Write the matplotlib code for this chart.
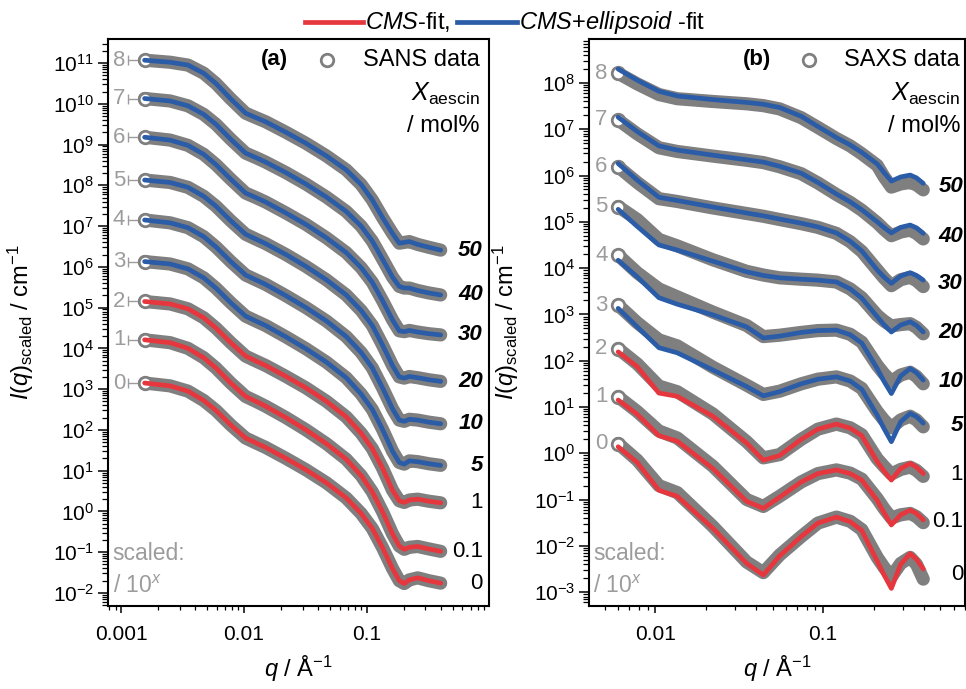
import numpy as np
import matplotlib
matplotlib.use("Agg")
import matplotlib.pyplot as plt
import matplotlib.transforms as mtransforms
from matplotlib.lines import Line2D
from matplotlib.ticker import LogLocator, NullFormatter, FixedLocator, FixedFormatter

plt.rcParams['font.family'] = ['Liberation Sans', 'DejaVu Sans']
plt.rcParams['mathtext.fontset'] = 'custom'
plt.rcParams['mathtext.rm'] = 'Liberation Sans'
plt.rcParams['mathtext.it'] = 'Liberation Sans:italic'
plt.rcParams['mathtext.bf'] = 'Liberation Sans:bold'

# -------------------- DATA (log10 of scaled I(q)) --------------------
X_AESCIN = ['0', '0.1', '1', '5', '10', '20', '30', '40', '50']
SCALE_EXP = ['0', '1', '2', '3', '4', '5', '6', '7', '8']

SANS_Q = [0.00155, 0.0025, 0.0035, 0.0047, 0.0059, 0.0078, 0.0103, 0.0125, 0.015,
          0.022, 0.032, 0.047, 0.068, 0.09, 0.111, 0.135, 0.162, 0.184, 0.202,
          0.222, 0.26, 0.32, 0.40]
SANS_LOGI = [
    [3.15, 3.08, 2.95, 2.72, 2.48, 2.12, 1.80, 1.68, 1.57, 1.30, 1.02, 0.70, 0.33, -0.05, -0.42, -0.90, -1.40, -1.70, -1.77, -1.68, -1.63, -1.70, -1.76],
    [4.21, 4.14, 4.00, 3.77, 3.52, 3.15, 2.82, 2.70, 2.58, 2.30, 2.00, 1.66, 1.28, 0.88, 0.48, -0.02, -0.55, -0.85, -0.93, -0.88, -0.86, -0.92, -0.98],
    [5.15, 5.09, 4.97, 4.75, 4.50, 4.14, 3.81, 3.69, 3.58, 3.31, 3.03, 2.70, 2.32, 1.92, 1.54, 1.05, 0.52, 0.26, 0.22, 0.28, 0.30, 0.25, 0.21],
    [6.13, 6.07, 5.95, 5.73, 5.48, 5.12, 4.79, 4.67, 4.56, 4.28, 3.99, 3.66, 3.28, 2.88, 2.50, 2.00, 1.48, 1.20, 1.16, 1.24, 1.22, 1.17, 1.13],
    [7.15, 7.08, 6.96, 6.74, 6.49, 6.13, 5.80, 5.68, 5.57, 5.29, 5.00, 4.67, 4.29, 3.90, 3.52, 3.02, 2.52, 2.24, 2.21, 2.26, 2.24, 2.19, 2.15],
    [8.13, 8.07, 7.95, 7.73, 7.49, 7.13, 6.80, 6.68, 6.57, 6.30, 6.01, 5.68, 5.31, 4.93, 4.56, 4.07, 3.58, 3.30, 3.27, 3.31, 3.28, 3.23, 3.19],
    [9.18, 9.11, 8.98, 8.76, 8.51, 8.15, 7.81, 7.70, 7.59, 7.32, 7.04, 6.71, 6.35, 5.98, 5.62, 5.16, 4.70, 4.43, 4.41, 4.44, 4.40, 4.36, 4.33],
    [10.13, 10.07, 9.95, 9.74, 9.50, 9.13, 8.79, 8.68, 8.57, 8.31, 8.03, 7.71, 7.36, 7.00, 6.63, 6.18, 5.75, 5.52, 5.48, 5.48, 5.42, 5.36, 5.31],
    [11.07, 11.02, 10.95, 10.75, 10.50, 10.12, 9.77, 9.66, 9.56, 9.30, 9.03, 8.72, 8.38, 8.02, 7.64, 7.20, 6.82, 6.58, 6.60, 6.62, 6.55, 6.48, 6.41],
]

SAXS_Q = [0.0060, 0.0078, 0.0105, 0.0135, 0.022, 0.035, 0.044, 0.055, 0.074,
          0.093, 0.12, 0.145, 0.17, 0.21, 0.23, 0.255, 0.29, 0.33, 0.36, 0.395]
SAXS_DATA_LOGI = [
    [0.21, -0.15, -0.70, -0.85, -1.58, -2.35, -2.58, -2.20, -1.80, -1.51, -1.38, -1.47, -1.65, -2.25, -2.46, -2.67, -2.38, -2.25, -2.40, -2.72],
    [1.22, 0.90, 0.48, 0.33, -0.28, -1.00, -1.15, -0.93, -0.62, -0.44, -0.36, -0.43, -0.56, -0.98, -1.19, -1.40, -1.33, -1.30, -1.37, -1.50],
    [2.26, 1.93, 1.45, 1.33, 0.85, 0.25, -0.10, -0.03, 0.30, 0.52, 0.63, 0.55, 0.40, -0.12, -0.28, -0.45, -0.35, -0.30, -0.37, -0.50],
    [3.20, 2.82, 2.45, 2.32, 1.86, 1.47, 1.27, 1.34, 1.50, 1.60, 1.65, 1.56, 1.40, 0.90, 0.72, 0.55, 0.72, 0.80, 0.72, 0.57],
    [4.28, 3.90, 3.55, 3.38, 3.05, 2.76, 2.52, 2.55, 2.61, 2.65, 2.66, 2.57, 2.40, 1.90, 1.72, 1.55, 1.69, 1.75, 1.66, 1.50],
    [5.33, 5.05, 4.62, 4.48, 4.18, 3.93, 3.85, 3.79, 3.76, 3.74, 3.70, 3.55, 3.36, 2.98, 2.86, 2.75, 2.78, 2.80, 2.72, 2.58],
    [6.19, 5.85, 5.50, 5.44, 5.30, 5.18, 5.12, 5.05, 4.96, 4.88, 4.75, 4.57, 4.36, 3.96, 3.79, 3.62, 3.75, 3.80, 3.73, 3.60],
    [7.20, 6.90, 6.60, 6.52, 6.42, 6.33, 6.28, 6.19, 6.04, 5.84, 5.59, 5.42, 5.25, 4.98, 4.84, 4.70, 4.78, 4.82, 4.75, 4.63],
    [8.21, 7.98, 7.75, 7.66, 7.60, 7.55, 7.51, 7.44, 7.25, 7.04, 6.80, 6.64, 6.47, 6.22, 5.98, 5.75, 5.82, 5.85, 5.80, 5.69],
]
SAXS_FIT_LOGI = [
    [0.14, -0.20, -0.80, -0.93, -1.62, -2.38, -2.63, -2.22, -1.80, -1.51, -1.38, -1.48, -1.67, -2.33, -2.62, -2.92, -2.40, -2.17, -2.29, -2.50],
    [1.15, 0.84, 0.38, 0.26, -0.33, -1.04, -1.19, -0.95, -0.62, -0.44, -0.36, -0.44, -0.58, -1.02, -1.28, -1.55, -1.33, -1.23, -1.30, -1.44],
    [2.19, 1.87, 1.30, 1.23, 0.80, 0.22, -0.15, -0.05, 0.30, 0.52, 0.63, 0.54, 0.38, -0.18, -0.38, -0.58, -0.33, -0.22, -0.30, -0.44],
    [3.13, 2.73, 2.28, 2.17, 1.80, 1.44, 1.24, 1.33, 1.50, 1.60, 1.65, 1.56, 1.38, 0.82, 0.54, 0.25, 0.68, 0.86, 0.79, 0.65],
    [4.17, 3.81, 3.36, 3.22, 2.99, 2.73, 2.49, 2.53, 2.61, 2.65, 2.66, 2.56, 2.38, 1.83, 1.56, 1.29, 1.67, 1.83, 1.74, 1.58],
    [5.27, 4.90, 4.50, 4.39, 4.15, 3.92, 3.84, 3.79, 3.76, 3.74, 3.70, 3.55, 3.35, 2.95, 2.78, 2.62, 2.77, 2.84, 2.76, 2.62],
    [6.26, 5.90, 5.53, 5.46, 5.32, 5.19, 5.13, 5.06, 4.97, 4.89, 4.76, 4.58, 4.37, 3.96, 3.81, 3.67, 3.83, 3.90, 3.84, 3.74],
    [7.26, 6.95, 6.64, 6.55, 6.44, 6.34, 6.29, 6.20, 6.05, 5.85, 5.60, 5.43, 5.26, 5.00, 4.88, 4.76, 4.88, 4.93, 4.87, 4.75],
    [8.30, 8.06, 7.82, 7.72, 7.64, 7.58, 7.54, 7.47, 7.28, 7.06, 6.82, 6.66, 6.50, 6.25, 6.07, 5.88, 5.97, 6.01, 5.95, 5.83],
]

# -------------------- STYLE --------------------
RED = '#e6373f'
BLUE = '#2a5ca8'
GREY = '#7f7f7f'
LIGHT = '#9c9c9c'
N_CMS = 3  # first three samples fitted with CMS only

fig = plt.figure(figsize=(9.66, 6.89), dpi=100)
ax_a = fig.add_axes([0.1118, 0.1205, 0.3944, 0.8229])
ax_b = fig.add_axes([0.6097, 0.1205, 0.3892, 0.8229])


def style_axes(ax, xlim, ylim, xticks, xlabels):
    ax.set_xscale('log')
    ax.set_yscale('log')
    ax.set_xlim(*xlim)
    ax.set_ylim(*ylim)
    ax.xaxis.set_major_locator(FixedLocator(xticks))
    ax.xaxis.set_major_formatter(FixedFormatter(xlabels))
    ax.xaxis.set_minor_locator(LogLocator(base=10, subs=np.arange(2, 10), numticks=100))
    ax.xaxis.set_minor_formatter(NullFormatter())
    ax.yaxis.set_major_locator(LogLocator(base=10, numticks=100))
    ax.yaxis.set_minor_locator(LogLocator(base=10, subs=np.arange(2, 10), numticks=200))
    ax.yaxis.set_minor_formatter(NullFormatter())
    ax.tick_params(which='both', direction='out', top=False, right=False,
                   labelsize=15, width=1.1)
    ax.tick_params(axis='y', which='major', length=7, pad=3)
    ax.tick_params(axis='y', which='minor', length=4, width=0.9)
    ax.tick_params(axis='x', which='major', length=5, pad=9)
    ax.tick_params(axis='x', which='minor', length=3, width=0.9)
    for s in ax.spines.values():
        s.set_linewidth(1.5)
    ax.set_xlabel(r'$q$ / Å$^{-1}$', fontsize=17)
    ax.xaxis.set_label_coords(0.5, -0.084)
    ax.set_ylabel(r'$I(q)_{\mathrm{scaled}}$ / cm$^{-1}$', fontsize=17)


def draw_curves(ax, q, data, fit, num_x, label_x, errbar):
    trans = mtransforms.blended_transform_factory(ax.transAxes, ax.transData)
    for i in range(len(data)):
        d = 10.0 ** np.array(data[i])
        f = 10.0 ** np.array(fit[i])
        col = RED if i < N_CMS else BLUE
        ax.plot(q, d, color=GREY, lw=9.5, solid_capstyle='round',
                solid_joinstyle='round', zorder=2)
        if errbar:
            ax.errorbar(q[0], d[0], xerr=[[q[0] * 0.27], [q[0] * 0.27]],
                        fmt='none', ecolor=LIGHT, elinewidth=1.0, capsize=3.5,
                        capthick=1.0, zorder=1)
        ax.plot(q[0], d[0], 'o', ms=9, mfc='white', mec=GREY, mew=2.0, zorder=3)
        ax.plot(q, f, color=col, lw=3.4, solid_capstyle='round',
                solid_joinstyle='round', zorder=4)
        ax.text(num_x, d[0], SCALE_EXP[i], color=LIGHT, fontsize=16,
                ha='right', va='center', zorder=5)
        end_y = 10.0 ** ((data[i][-1] + fit[i][-1]) / 2)
        if i >= 3:
            ax.text(label_x, end_y, X_AESCIN[i], transform=trans, fontsize=16,
                    fontweight='bold', fontstyle='italic', ha='right', va='center')
        else:
            ax.text(label_x, end_y, X_AESCIN[i], transform=trans, fontsize=16,
                    ha='right', va='center')


def panel_texts(ax, tag, kind, x_tag, x_mark, x_right):
    ax.text(x_tag, 0.963, tag, transform=ax.transAxes, fontsize=16,
            fontweight='bold', ha='center', va='center')
    ax.plot([x_mark], [0.963], 'o', ms=9, mfc='white', mec=GREY, mew=2.0,
            transform=ax.transAxes, clip_on=False)
    ax.text(x_right, 0.963, kind, transform=ax.transAxes, fontsize=17,
            ha='right', va='center')
    ax.text(x_right, 0.903, r'$X_{\mathrm{aescin}}$', transform=ax.transAxes,
            fontsize=18, ha='right', va='center')
    ax.text(x_right, 0.846, '/ mol%', transform=ax.transAxes, fontsize=17,
            ha='right', va='center')
    ax.text(0.012, 0.093, 'scaled:', transform=ax.transAxes, fontsize=16.5,
            color=LIGHT, ha='left', va='center')
    ax.text(0.012, 0.034, r'/ 10$^{x}$', transform=ax.transAxes, fontsize=16.5,
            color=LIGHT, ha='left', va='center')


# -------------------- PANEL (a) SANS --------------------
style_axes(ax_a, (0.00078, 0.99), (10 ** -2.32, 10 ** 11.59),
           [0.001, 0.01, 0.1], ['0.001', '0.01', '0.1'])
draw_curves(ax_a, SANS_Q, SANS_LOGI, SANS_LOGI, 0.00108, 0.984, True)
panel_texts(ax_a, '(a)', 'SANS data', 0.438, 0.575, 0.976)
ax_a.yaxis.set_label_coords(-0.19, 0.5)

# -------------------- PANEL (b) SAXS --------------------
style_axes(ax_b, (0.00402, 0.70), (10 ** -3.30, 10 ** 8.95),
           [0.01, 0.1], ['0.01', '0.1'])
draw_curves(ax_b, SAXS_Q, SAXS_DATA_LOGI, SAXS_FIT_LOGI, 0.0052, 0.995, False)
panel_texts(ax_b, '(b)', 'SAXS data', 0.447, 0.585, 0.987)
ax_b.yaxis.set_label_coords(-0.18, 0.5)

# -------------------- TOP LEGEND --------------------
fig.add_artist(Line2D([0.316, 0.376], [0.968, 0.968], color=RED, lw=3.4,
                      transform=fig.transFigure))
fig.text(0.378, 0.968, r'$\mathit{CMS}$-fit,', fontsize=17, ha='left', va='center')
fig.add_artist(Line2D([0.473, 0.535], [0.968, 0.968], color=BLUE, lw=3.4,
                      transform=fig.transFigure))
fig.text(0.537, 0.968, r'$\mathit{CMS}$+$\mathit{ellipsoid}$ -fit', fontsize=17,
         ha='left', va='center')

fig.savefig('out.png', dpi=100)
